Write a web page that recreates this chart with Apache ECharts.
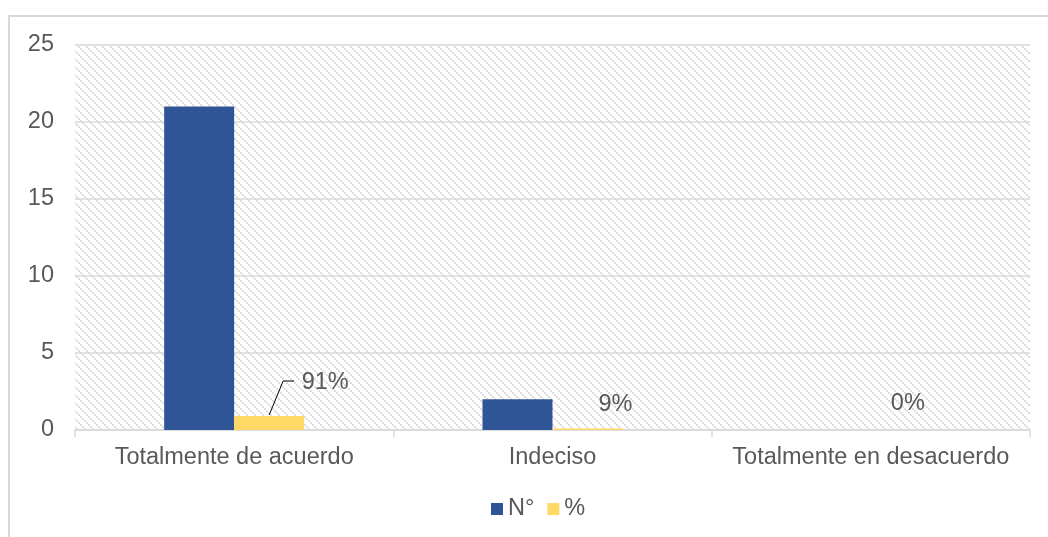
<!DOCTYPE html>
<html>
<head>
<meta charset="utf-8">
<script src="https://cdn.jsdelivr.net/npm/echarts@6/dist/echarts.min.js"></script>
<style>html,body{margin:0;padding:0;background:#fff;}#c{width:1048px;height:537px;}</style>
</head>
<body>
<div id="c"></div>
<script>
const categories = ['Totalmente de acuerdo', 'Indeciso', 'Totalmente en desacuerdo'];
const countValues = [21, 2, 0];
const percentValues = [0.91, 0.09, 0];
const percentLabels = ['91%', '9%', '0%'];
const seriesNames = ['N°', '%'];

// hatched pattern
const pc = document.createElement('canvas');
pc.width = 8; pc.height = 8;
const pctx = pc.getContext('2d');
pctx.fillStyle = '#ffffff';
pctx.fillRect(0, 0, 8, 8);
pctx.fillStyle = '#dedede';
for (let i = 0; i < 8; i += 2) { pctx.fillRect(i, i, 2, 2); }

const font = '"Liberation Sans", Arial, sans-serif';
const txt = '#595959';
const labelShift = [[56, -16], [28, -7], [2, -9]];

const chart = echarts.init(document.getElementById('c'));
chart.setOption({
  animation: false,
  backgroundColor: '#ffffff',
  textStyle: { fontFamily: font },
  grid: { left: 75, right: 18, top: 45, bottom: 107, show: true, borderWidth: 0,
    backgroundColor: { image: pc, repeat: 'repeat' } },
  legend: {
    data: seriesNames, left: 486, top: 492, itemWidth: 12, itemHeight: 12, itemGap: 13,
    icon: 'rect', textStyle: { color: txt, fontSize: 23.5, fontFamily: font }
  },
  xAxis: {
    type: 'category', data: categories,
    axisLine: { lineStyle: { color: '#d9d9d9', width: 1.5 } },
    axisTick: { show: true, length: 7, lineStyle: { color: '#d9d9d9', width: 1.5 } },
    axisLabel: { color: txt, fontSize: 23.5, margin: 16, interval: 0, fontFamily: font }
  },
  yAxis: {
    type: 'value', min: 0, max: 25, interval: 5,
    axisLine: { show: false }, axisTick: { show: false },
    splitLine: { lineStyle: { color: '#d9d9d9', width: 1.5 } },
    axisLabel: { color: txt, fontSize: 23.5, margin: 21, fontFamily: font }
  },
  series: [
    { name: seriesNames[0], type: 'bar', data: countValues, barWidth: 70, barGap: '0%',
      itemStyle: { color: '#2F5597' } },
    { name: seriesNames[1], type: 'bar', data: percentValues, barWidth: 70, barGap: '0%',
      itemStyle: { color: '#FFD966' },
      label: { show: true, position: 'top', distance: 5, color: txt, fontSize: 23.5, fontFamily: font,
        formatter: p => percentLabels[p.dataIndex] },
      labelLayout: p => ({ dx: labelShift[p.dataIndex][0], dy: labelShift[p.dataIndex][1] })
    }
  ]
});

// leader line for the first percentage label, anchored to the bar's layout
const lay = chart.getModel().getSeriesByIndex(1).getData().getItemLayout(0);
const cx = lay.x + lay.width / 2;
const topY = lay.y + Math.min(lay.height, 0);
chart.setOption({
  graphic: [{
    type: 'rect', z: -10,
    shape: { x: 9, y: 16, width: 1100, height: 600 },
    style: { fill: 'none', stroke: '#d9d9d9', lineWidth: 2 }
  }, {
    type: 'polyline', z: 10,
    shape: { points: [[cx, topY - 1], [cx + 14, 381], [cx + 25, 381]] },
    style: { fill: 'none', stroke: '#000000', lineWidth: 1 }
  }]
});
</script>
</body>
</html>
